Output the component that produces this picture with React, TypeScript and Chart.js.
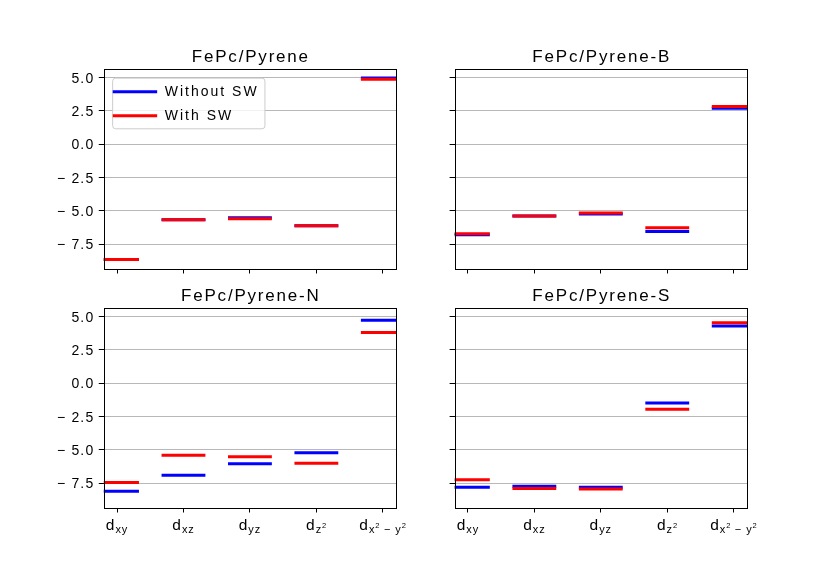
import React, { useEffect, useRef } from "react";
import { Chart, registerables } from "chart.js";

Chart.register(...registerables);

// ---------------- data ----------------
const categories = ["dxy", "dxz", "dyz", "dz2", "dx2-y2"];
const panelTitles = ["FePc/Pyrene", "FePc/Pyrene-B", "FePc/Pyrene-N", "FePc/Pyrene-S"];
const seriesLabels = ["Without SW", "With SW"];

const pyreneWithout = [-8.63, -5.65, -5.5, -6.1, 4.97];
const pyreneWith = [-8.63, -5.65, -5.58, -6.1, 4.88];
const pyreneBWithout = [-6.78, -5.38, -5.22, -6.53, 2.7];
const pyreneBWith = [-6.7, -5.38, -5.15, -6.25, 2.83];
const pyreneNWithout = [-8.1, -6.9, -6.03, -5.2, 4.73];
const pyreneNWith = [-7.43, -5.4, -5.5, -6.0, 3.8];
const pyreneSWithout = [-7.8, -7.71, -7.8, -1.48, 4.3];
const pyreneSWith = [-7.23, -7.89, -7.92, -1.95, 4.53];

const yTicks = [-7.5, -5, -2.5, 0, 2.5, 5];
const xTicks = [0, 1, 2, 3, 4];

// tick label parts: [text, role] role: m = main, s = subscript, p = superscript of subscript
const xTickLabels: [string, string][][] = [
  [["d", "m"], ["xy", "s"]],
  [["d", "m"], ["xz", "s"]],
  [["d", "m"], ["yz", "s"]],
  [["d", "m"], ["z", "s"], ["2", "p"]],
  [["d", "m"], ["x", "s"], ["2", "p"], [" \u2212 ", "s"], ["y", "s"], ["2", "p"]],
];

const panelSeries = [
  [pyreneWithout, pyreneWith],
  [pyreneBWithout, pyreneBWith],
  [pyreneNWithout, pyreneNWith],
  [pyreneSWithout, pyreneSWith],
];

// ---------------- layout / style ----------------
const W = 830;
const H = 581;
const FONT = '"Liberation Sans", Arial, Helvetica, sans-serif';
const BLUE = "#0000ff";
const RED = "#ff0000";
const HALF = 0.33;
const TICK_LEN = 5;

const layouts = [
  { L: 103.75, R: 396.1, T: 68.5, B: 268.5, yLabels: true, xLabels: false, legend: true },
  { L: 454.6, R: 747, T: 68.5, B: 268.5, yLabels: false, xLabels: false, legend: false },
  { L: 103.75, R: 396.1, T: 307.5, B: 507.5, yLabels: true, xLabels: true, legend: false },
  { L: 454.6, R: 747, T: 307.5, B: 507.5, yLabels: false, xLabels: true, legend: false },
];

function levelPoints(vals: number[]) {
  const pts: { x: number; y: number | null }[] = [];
  vals.forEach((v, i) => {
    pts.push({ x: i - HALF, y: v }, { x: i + HALF, y: v }, { x: i + HALF, y: null });
  });
  return pts;
}

function spacedWidth(ctx: CanvasRenderingContext2D, text: string, ls: number) {
  (ctx as any).letterSpacing = "0px";
  const w = ctx.measureText(text).width;
  return w + ls * Math.max(text.length - 1, 0);
}

function drawSpaced(ctx: CanvasRenderingContext2D, text: string, x: number, y: number, ls: number) {
  (ctx as any).letterSpacing = ls + "px";
  ctx.textAlign = "left";
  ctx.textBaseline = "alphabetic";
  ctx.fillText(text, x, y);
  (ctx as any).letterSpacing = "0px";
}

function fmtTick(v: number) {
  const s = Math.abs(v).toFixed(1);
  return v < 0 ? "\u2212 " + s : s;
}

const roleFont: Record<string, number> = { m: 15.5, s: 11, p: 7.5 };
const roleDy: Record<string, number> = { m: 0, s: 3, p: -2.5 };
const roleLs: Record<string, number> = { m: 1, s: 0.9, p: 0.5 };

function makeTextPlugin(idx: number) {
  const lay = layouts[idx];
  return {
    id: "panelText" + idx,
    afterDraw(chart: any) {
      const ctx: CanvasRenderingContext2D = chart.ctx;
      const ca = chart.chartArea;
      const ys = chart.scales.y;
      const xs = chart.scales.x;
      ctx.save();
      ctx.fillStyle = "#000";

      // spines
      ctx.strokeStyle = "#000";
      ctx.lineWidth = 1;
      ctx.strokeRect(Math.round(ca.left) + 0.5, Math.round(ca.top) + 0.5, Math.round(ca.right - ca.left), Math.round(ca.bottom - ca.top));

      // title
      ctx.font = "17px " + FONT;
      const tls = 1.8;
      const tw = spacedWidth(ctx, panelTitles[idx], tls);
      drawSpaced(ctx, panelTitles[idx], (ca.left + ca.right) / 2 - tw / 2, ca.top - 6.2, tls);

      // y tick labels
      if (lay.yLabels) {
        ctx.font = "14px " + FONT;
        const ls = 1.2;
        yTicks.forEach((v) => {
          const t = fmtTick(v);
          const w = spacedWidth(ctx, t, ls);
          const py = ys.getPixelForValue(v);
          drawSpaced(ctx, t, ca.left - 10.5 - w, py + 5, ls);
        });
      }

      // x tick labels
      if (lay.xLabels) {
        xTicks.forEach((v, i) => {
          const parts = xTickLabels[i];
          let total = 0;
          const widths = parts.map(([txt, role]) => {
            ctx.font = roleFont[role] + "px " + FONT;
            const w = spacedWidth(ctx, txt, roleLs[role]) + roleLs[role];
            total += w;
            return w;
          });
          let x = xs.getPixelForValue(v) - total / 2;
          const base = ca.bottom + 22.5;
          parts.forEach(([txt, role], k) => {
            ctx.font = roleFont[role] + "px " + FONT;
            drawSpaced(ctx, txt, x, base + roleDy[role], roleLs[role]);
            x += widths[k];
          });
        });
      }

      // legend
      if (lay.legend) {
        const bx = ca.left + 8.4;
        const by = ca.top + 9.2;
        const bw = 152.3;
        const bh = 50.6;
        ctx.beginPath();
        (ctx as any).roundRect(bx + 0.5, by + 0.5, bw, bh, 3);
        ctx.fillStyle = "rgba(255,255,255,0.8)";
        ctx.fill();
        ctx.strokeStyle = "#cccccc";
        ctx.lineWidth = 1;
        ctx.stroke();
        const colors = [BLUE, RED];
        seriesLabels.forEach((lab, k) => {
          const ly = ca.top + 23.2 + k * 24;
          ctx.strokeStyle = colors[k];
          ctx.lineWidth = 3;
          ctx.lineCap = "butt";
          ctx.beginPath();
          ctx.moveTo(ca.left + 9, ly);
          ctx.lineTo(ca.left + 53.4, ly);
          ctx.stroke();
          ctx.fillStyle = "#000";
          ctx.font = "14px " + FONT;
          drawSpaced(ctx, lab, ca.left + 61, ly + 4.5, 2);
        });
      }
      ctx.restore();
    },
  };
}

function Panel({ idx }: { idx: number }) {
  const ref = useRef<HTMLCanvasElement | null>(null);
  useEffect(() => {
    const lay = layouts[idx];
    const [without, withSW] = panelSeries[idx];
    const chart = new Chart(ref.current as HTMLCanvasElement, {
      type: "line",
      data: {
        datasets: [
          {
            label: seriesLabels[0],
            data: levelPoints(without) as any,
            borderColor: BLUE,
            backgroundColor: BLUE,
            borderWidth: 3,
            borderCapStyle: "butt",
            pointRadius: 0,
            spanGaps: false,
            tension: 0,
            clip: 0 as any,
            order: 2,
          },
          {
            label: seriesLabels[1],
            data: levelPoints(withSW) as any,
            borderColor: RED,
            backgroundColor: RED,
            borderWidth: 3,
            borderCapStyle: "butt",
            pointRadius: 0,
            spanGaps: false,
            tension: 0,
            clip: 0 as any,
            order: 1,
          },
        ],
      },
      options: {
        responsive: false,
        animation: false,
        events: [],
        layout: {
          padding: {
            left: lay.L - TICK_LEN,
            right: W - lay.R,
            top: lay.T,
            bottom: H - lay.B - TICK_LEN,
          },
        },
        plugins: {
          legend: { display: false },
          tooltip: { enabled: false },
          title: { display: false },
        },
        scales: {
          x: {
            type: "linear",
            min: -0.2,
            max: 4.2,
            afterBuildTicks: (s: any) => {
              s.ticks = xTicks.map((value) => ({ value }));
            },
            afterFit: (s: any) => {
              s.height = TICK_LEN;
            },
            ticks: { display: false },
            border: { display: false },
            grid: {
              drawOnChartArea: false,
              drawTicks: true,
              tickLength: TICK_LEN,
              tickColor: "#000",
              tickWidth: 1,
            },
          },
          y: {
            type: "linear",
            min: -9.31,
            max: 5.68,
            afterBuildTicks: (s: any) => {
              s.ticks = yTicks.map((value) => ({ value }));
            },
            afterFit: (s: any) => {
              s.width = TICK_LEN;
            },
            ticks: { display: false },
            border: { display: false },
            grid: {
              drawOnChartArea: true,
              color: "#b8b8b8",
              lineWidth: 1,
              drawTicks: true,
              tickLength: TICK_LEN,
              tickColor: "#000",
              tickWidth: 1,
            },
          },
        },
      } as any,
      plugins: [makeTextPlugin(idx)],
    });
    return () => chart.destroy();
  }, [idx]);
  return (
    <canvas
      ref={ref}
      width={W}
      height={H}
      style={{ position: "absolute", left: 0, top: 0, width: W, height: H }}
    />
  );
}

export default function App() {
  return (
    <div style={{ position: "absolute", left: 0, top: 0, width: W, height: H, background: "#fff" }}>
      {layouts.map((_, i) => (
        <Panel key={i} idx={i} />
      ))}
    </div>
  );
}
